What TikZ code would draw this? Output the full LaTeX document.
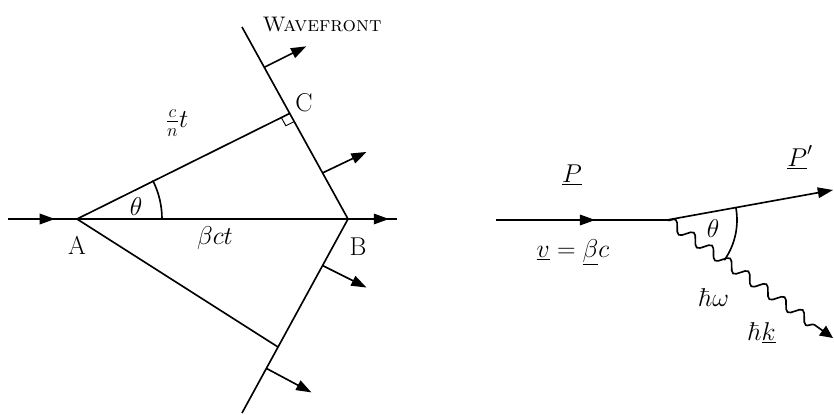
\documentclass[tikz,border=0pt]{standalone}
\usepackage{fix-cm}
\usetikzlibrary{arrows.meta,calc,decorations.markings,decorations.pathmorphing}

\tikzset{
  line/.style={line width=1.4pt},
  flowarrow/.style={line, postaction={decorate},
    decoration={markings, mark=at position #1 with {\arrow{Triangle[length=13pt,width=9pt]}}}},
  wavearrow/.style={line, -{Triangle[length=13pt,width=9pt]}},
  photon/.style={line, -{Triangle[length=11pt,width=10pt]}, decorate,
    decoration={snake, amplitude=4.5pt, segment length=19pt, post length=10pt}},
  lbl/.style={font=\fontsize{22}{26}\selectfont, inner sep=1pt},
}

\begin{document}
\begin{tikzpicture}[x=0.03cm,y=-0.03cm]
  \useasboundingbox (0,0) rectangle (834,414);

  % Particle track and wavefront points
  \coordinate (in) at (8,219);
  \coordinate (A) at (77,219);
  \coordinate (B) at (348,219);
  \coordinate (out) at (397,219);
  \coordinate (top) at (242,27);
  \coordinate (bot) at (242,413);
  \coordinate (C) at ($(top)!0.45!(B)$);
  \coordinate (D) at ($(B)!0.66!(bot)$);

  % Track A -> B
  \draw[flowarrow=0.68] (in) -- (A);
  \draw[flowarrow=0.975] (A) -- (out);

  % Light rays and wavefront
  \draw[line] (A) -- (C);
  \draw[line] (A) -- (D);
  \draw[line] (top) -- (B) -- (bot);

  % Right angle at C
  \coordinate (c1) at ($(C)!8pt!(A)$);
  \coordinate (c2) at ($(C)!8pt!(B)$);
  \draw[thick] (c1) -- ($(c1)+(c2)-(C)$) -- (c2);

  % Wavefront normals
  \foreach \i/\a/\b/\f/\dx/\dy in {1/top/B/0.21/42/-21, 2/top/B/0.76/44/-21,
                                   3/B/bot/0.24/44/22, 4/B/bot/0.77/45/24} {
    \coordinate (w\i) at ($(\a)!\f!(\b)$);
    \coordinate (w\i e) at ($(w\i)+(\dx,\dy)$);
    \draw[wavearrow] (w\i) -- (w\i e);
  }

  % Angle theta at A
  \draw[line] ($(A)+(85,0)$) arc[start angle=0,end angle=-27,radius=85];

  % Labels (left)
  \node[font=\fontsize{18}{22}\selectfont] (wf) at (322,25) {\textsc{Wavefront}};
  \node[lbl] (labC) at (304,103) {C};
  \node[lbl] (labct) at (177,123) {$\frac{c}{n}t$};
  \node[lbl] (labth) at (136,207) {$\theta$};
  \node[lbl] (labA) at (77,245) {A};
  \node[lbl] (labbct) at (215,238) {$\beta c t$};
  \node[lbl] (labB) at (358,247) {B};

  % Emission vertex (right)
  \coordinate (S) at (496,220);
  \coordinate (V) at (667,220);
  \coordinate (Pt) at (833,190);
  \coordinate (K) at (833,338);
  \draw[flowarrow=0.58] (S) -- (V);
  \draw[wavearrow] (V) -- (Pt);
  \draw[photon] (V) -- (K);
  \draw[line] ($(V)+(-10:70)$) arc[start angle=-10,end angle=35,radius=70];

  % Labels (right)
  \node[lbl] (labP) at (572,175) {$\underline{P}$};
  \node[lbl] (labPp) at (800,157) {$\underline{P}'$};
  \node[lbl] (labv) at (573,252) {$\underline{v}=\underline{\beta}c$};
  \node[lbl] (labth2) at (713,229) {$\theta$};
  \node[lbl] (labhw) at (714,298) {$\hbar\omega$};
  \node[lbl] (labhk) at (762,333) {$\hbar\underline{k}$};
\end{tikzpicture}
\end{document}
